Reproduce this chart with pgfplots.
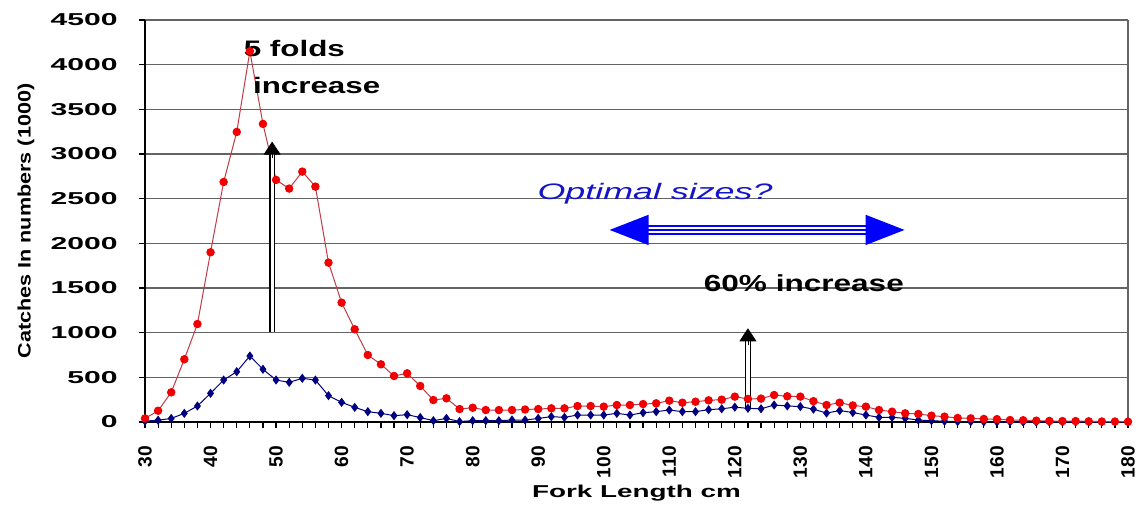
\documentclass[border=0pt]{standalone}
\usepackage{fontspec}
\setmainfont{Liberation Sans}
\usepackage{pgfplots}
\pgfplotsset{compat=1.18}
\usepackage{pgfplotstable}
\usetikzlibrary{arrows.meta}

\definecolor{redline}{RGB}{190,60,70}
\definecolor{redmark}{RGB}{240,0,0}
\definecolor{navyblue}{RGB}{0,0,128}
\definecolor{gridgray}{RGB}{100,100,100}
\definecolor{arrowblue}{RGB}{0,0,255}
\definecolor{textblue}{RGB}{20,20,200}

% fork length (cm), catches in numbers (1000)
\pgfplotstableread{
len red blue
30 40 10
32 126 20
34 332 40
36 702 97
38 1097 179
40 1900 321
42 2687 470
44 3247 563
46 4150 739
48 3337 590
50 2710 470
52 2613 444
54 2803 489
56 2635 470
58 1784 295
60 1336 220
62 1038 164
64 750 116
66 646 97
68 515 71
70 545 82
72 403 50
74 246 15
76 265 40
78 145 5
80 160 15
82 134 15
84 134 15
86 134 22
88 140 22
90 145 40
92 153 60
94 153 52
96 179 78
98 179 78
100 172 78
102 190 97
104 190 78
106 201 104
108 209 116
110 239 134
112 216 116
114 227 116
116 243 138
118 250 148
120 284 166
122 258 153
124 262 148
126 302 190
128 288 180
130 284 172
132 233 144
134 190 100
136 216 128
138 185 106
140 172 78
142 134 52
144 116 52
146 97 41
148 90 22
150 71 15
152 60 8
154 45 5
156 41 3
158 34 2
160 32 0
162 22 0
164 20 0
166 15 0
168 12 0
170 10 0
172 10 0
174 8 0
176 5 0
178 5 0
180 3 0
}\catches

\begin{document}
\begin{tikzpicture}
\useasboundingbox (0,0) rectangle (571.5pt,254.5pt);
\begin{axis}[
    at={(72.5pt,43.5pt)}, anchor=south west,
    scale only axis, width=491.5pt, height=201pt,
    xmin=30, xmax=180, ymin=0, ymax=4500,
    xtick distance=10, minor x tick num=4,
    ytick distance=500,
    axis x line*=bottom, axis y line*=left,
    axis line style={black, line width=0.8pt},
    tick align=outside,
    major tick length=3pt, minor tick length=3pt,
    tick style={black, line width=0.6pt},
    ymajorgrids, grid style={gridgray, line width=0.7pt},
    /pgf/number format/assume math mode=true,
    /pgf/number format/1000 sep={},
    yticklabel={\pgfmathprintnumber{\tick}\rule{2.6pt}{0pt}},
    xticklabel={\pgfmathprintnumber{\tick}\rule{5.5pt}{0pt}},
    yticklabel style={font=\bfseries\fontsize{8.6}{10}\selectfont, xscale=1.75, anchor=east},
    xticklabel style={font=\bfseries\fontsize{9.6}{12}\selectfont, rotate=90, anchor=east},
    xlabel={Fork Length cm},
    ylabel={Catches In numbers (1000)},
    every axis x label/.style={at={(rel axis cs:0.5,-0.189)}, anchor=base,
        font=\bfseries\fontsize{8.6}{10}\selectfont, xscale=1.62},
    every axis y label/.style={at={(rel axis cs:-0.121,0.5)}, anchor=center, rotate=90,
        font=\bfseries\fontsize{9}{10}\selectfont, xscale=1.2},
    clip=false,
]
\draw[gridgray, line width=0.7pt] (rel axis cs:1,0) -- (rel axis cs:1,1);

\addplot[color=navyblue, line width=0.5pt, mark=diamond*, mark size=1.9pt,
    mark options={fill=navyblue, draw=navyblue}] table[x=len, y=blue] {\catches};
\addplot[color=redline, line width=0.5pt, mark=*, mark size=1.85pt,
    mark options={fill=redmark, draw=redmark}] table[x=len, y=red] {\catches};

% black arrows
\draw[black, line width=0.7pt, double=white, double distance=1.6pt]
    (axis cs:49.4,1011) -- (axis cs:49.4,3000);
\draw[black, line width=0.4pt, -{Triangle[length=6.5pt,width=8.5pt]}]
    (axis cs:49.4,2950) -- (axis cs:49.4,3139);
\draw[black, line width=0.7pt, double=white, double distance=1.6pt]
    (axis cs:122,157) -- (axis cs:122,910);
\draw[black, line width=0.4pt, -{Triangle[length=6.5pt,width=8.5pt]}]
    (axis cs:122,860) -- (axis cs:122,1049);

% blue double arrow
\draw[arrowblue, line width=5pt] (axis cs:106.5,2150) -- (axis cs:140.5,2150);
\draw[white, line width=3.4pt] (axis cs:106.5,2150) -- (axis cs:140.5,2150);
\draw[arrowblue, line width=0.8pt,
    {Triangle[length=19.5pt,width=15pt]}-{Triangle[length=19.5pt,width=15pt]}]
    (axis cs:100.9,2150) -- (axis cs:145.9,2150);

% texts
\node[anchor=base west, inner sep=0pt, font=\bfseries\fontsize{11.2}{13}\selectfont, xscale=1.4]
    at (axis cs:45.0,4087) {5 folds};
\node[anchor=base west, inner sep=0pt, font=\bfseries\fontsize{11.2}{13}\selectfont, xscale=1.4]
    at (axis cs:46.4,3673) {increase};
\node[anchor=base west, inner sep=0pt, font=\bfseries\fontsize{11.6}{13}\selectfont, xscale=1.36]
    at (axis cs:115.2,1459) {60\% increase};
\node[anchor=base west, inner sep=0pt, text=textblue, font=\itshape\fontsize{11.2}{13}\selectfont, xscale=1.6]
    at (axis cs:89.8,2494) {Optimal sizes?};
\end{axis}
\end{tikzpicture}
\end{document}
